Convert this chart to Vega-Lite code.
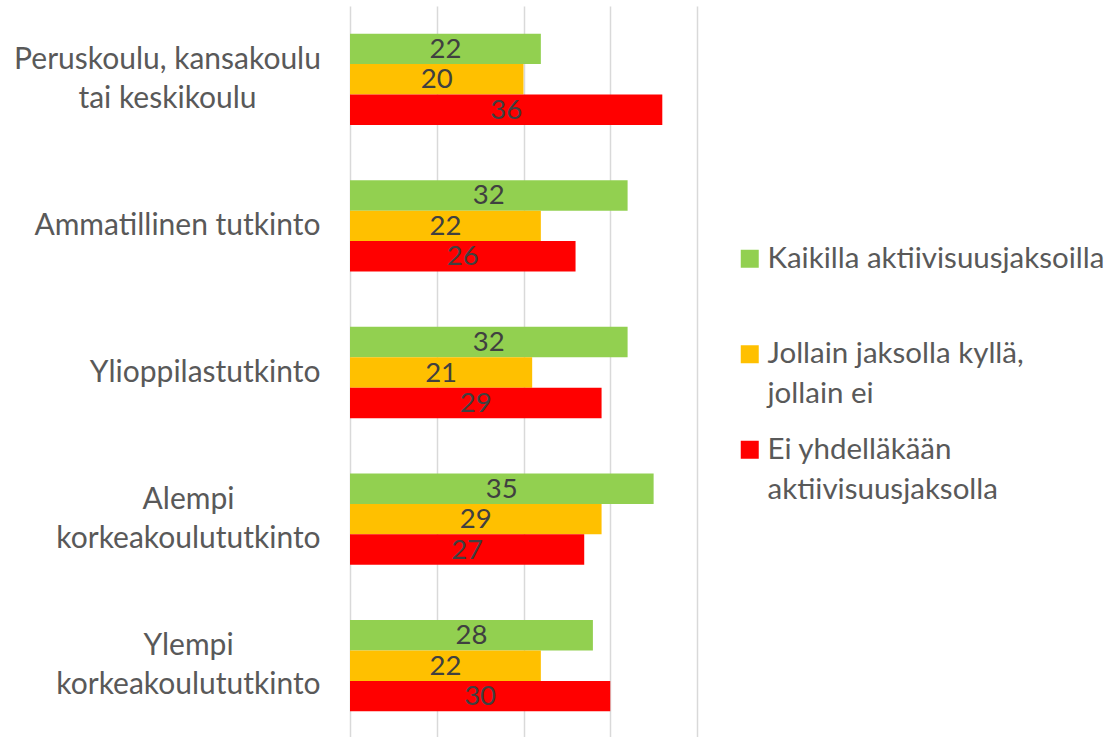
{
  "$schema": "https://vega.github.io/schema/vega-lite/v6.json",
  "width": 347,
  "height": 733,
  "autosize": {"type": "none"},
  "padding": {"left": 350, "top": 6, "right": 412, "bottom": 0},
  "background": "white",
  "config": {"view": {"stroke": null}, "font": "Lato", "style": {"guide-label": {"lineHeight": 40}}},
  "data": {"values": [
    {"edu": "Peruskoulu, kansakoulu tai keskikoulu", "series": "Kaikilla aktiivisuusjaksoilla", "value": 22},
    {"edu": "Peruskoulu, kansakoulu tai keskikoulu", "series": "Jollain jaksolla kyllä, jollain ei", "value": 20},
    {"edu": "Peruskoulu, kansakoulu tai keskikoulu", "series": "Ei yhdelläkään aktiivisuusjaksolla", "value": 36},
    {"edu": "Ammatillinen tutkinto", "series": "Kaikilla aktiivisuusjaksoilla", "value": 32},
    {"edu": "Ammatillinen tutkinto", "series": "Jollain jaksolla kyllä, jollain ei", "value": 22},
    {"edu": "Ammatillinen tutkinto", "series": "Ei yhdelläkään aktiivisuusjaksolla", "value": 26},
    {"edu": "Ylioppilastutkinto", "series": "Kaikilla aktiivisuusjaksoilla", "value": 32},
    {"edu": "Ylioppilastutkinto", "series": "Jollain jaksolla kyllä, jollain ei", "value": 21},
    {"edu": "Ylioppilastutkinto", "series": "Ei yhdelläkään aktiivisuusjaksolla", "value": 29},
    {"edu": "Alempi korkeakoulututkinto", "series": "Kaikilla aktiivisuusjaksoilla", "value": 35},
    {"edu": "Alempi korkeakoulututkinto", "series": "Jollain jaksolla kyllä, jollain ei", "value": 29},
    {"edu": "Alempi korkeakoulututkinto", "series": "Ei yhdelläkään aktiivisuusjaksolla", "value": 27},
    {"edu": "Ylempi korkeakoulututkinto", "series": "Kaikilla aktiivisuusjaksoilla", "value": 28},
    {"edu": "Ylempi korkeakoulututkinto", "series": "Jollain jaksolla kyllä, jollain ei", "value": 22},
    {"edu": "Ylempi korkeakoulututkinto", "series": "Ei yhdelläkään aktiivisuusjaksolla", "value": 30}
  ]},
  "encoding": {
    "y": {
      "field": "edu", "type": "nominal",
      "sort": ["Peruskoulu, kansakoulu tai keskikoulu", "Ammatillinen tutkinto", "Ylioppilastutkinto", "Alempi korkeakoulututkinto", "Ylempi korkeakoulututkinto"],
      "scale": {"paddingInner": 0.377, "paddingOuter": 0.1885},
      "axis": {
        "title": null, "ticks": false, "domain": false, "grid": false,
        "labelFontSize": 30, "labelColor": "#595959",
        "labelLineHeight": 39, "labelLimit": 500,
        "labelAlign": {"condition": {"test": "datum.value == 'Ammatillinen tutkinto' || datum.value == 'Ylioppilastutkinto'", "value": "right"}, "value": "center"},
        "labelPadding": {"condition": [
          {"test": "datum.value == 'Ammatillinen tutkinto' || datum.value == 'Ylioppilastutkinto'", "value": 30},
          {"test": "datum.value == 'Peruskoulu, kansakoulu tai keskikoulu'", "value": 183}
        ], "value": 162},
        "labelOffset": {"condition": {"test": "datum.value == 'Ammatillinen tutkinto' || datum.value == 'Ylioppilastutkinto'", "value": 0}, "value": -19.5},
        "labelExpr": "datum.value == 'Peruskoulu, kansakoulu tai keskikoulu' ? ['Peruskoulu, kansakoulu', 'tai keskikoulu'] : datum.value == 'Alempi korkeakoulututkinto' ? ['Alempi', 'korkeakoulututkinto'] : datum.value == 'Ylempi korkeakoulututkinto' ? ['Ylempi', 'korkeakoulututkinto'] : datum.value"
      }
    },
    "yOffset": {
      "field": "series", "type": "nominal",
      "sort": ["Kaikilla aktiivisuusjaksoilla", "Jollain jaksolla kyllä, jollain ei", "Ei yhdelläkään aktiivisuusjaksolla"],
      "scale": {"paddingInner": 0, "paddingOuter": 0}
    }
  },
  "layer": [
    {
      "mark": {"type": "bar"},
      "encoding": {
        "x": {
          "field": "value", "type": "quantitative",
          "scale": {"domain": [0, 40], "nice": false},
          "axis": {"title": null, "labels": false, "ticks": false, "domain": false, "grid": true, "gridColor": "#d9d9d9", "gridWidth": 1.5, "values": [0, 10, 20, 30, 40]}
        },
        "color": {
          "field": "series", "type": "nominal",
          "scale": {"domain": ["Kaikilla aktiivisuusjaksoilla", "Jollain jaksolla kyllä, jollain ei", "Ei yhdelläkään aktiivisuusjaksolla"], "range": ["#92D050", "#FFC000", "#FF0000"]},
          "legend": {
            "title": null, "orient": "none", "legendX": 385, "legendY": 238,
            "symbolType": "square", "symbolSize": 324, "symbolStrokeWidth": 0,
            "labelFontSize": 29.5, "labelColor": "#595959", "labelOffset": 3, "labelLimit": 500,
            "rowPadding": 24.5,
            "labelExpr": "datum.value == 'Jollain jaksolla kyllä, jollain ei' ? ['Jollain jaksolla kyllä,', 'jollain ei'] : datum.value == 'Ei yhdelläkään aktiivisuusjaksolla' ? ['Ei yhdelläkään', 'aktiivisuusjaksolla'] : [datum.value, '']"
          }
        }
      }
    },
    {
      "mark": {"type": "text", "fontSize": 27.5, "color": "#404040", "align": "center", "baseline": "middle", "dy": 1},
      "encoding": {
        "x": {"field": "value", "type": "quantitative", "scale": {"domain": [0, 80], "nice": false}, "axis": null},
        "text": {"field": "value", "type": "quantitative"}
      }
    }
  ],
  "resolve": {"scale": {"x": "independent"}}
}
